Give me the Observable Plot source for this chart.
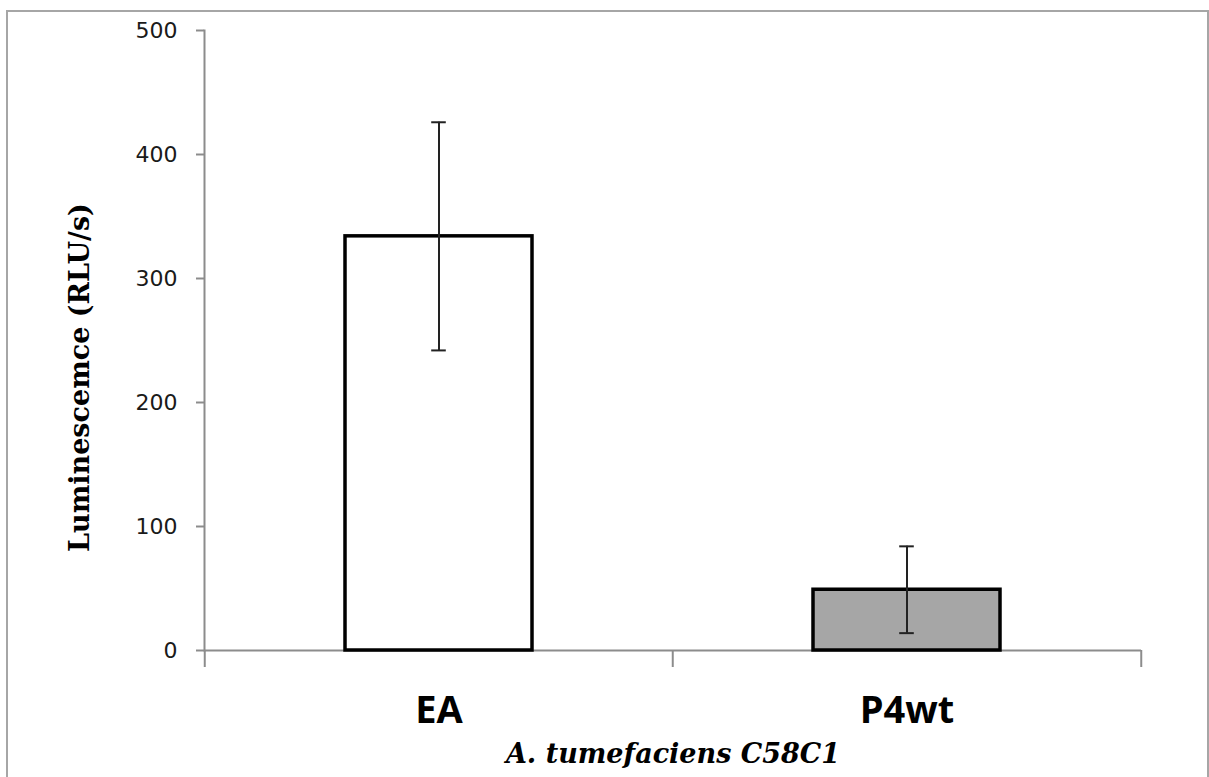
<!DOCTYPE html>
<html><head><meta charset="utf-8">
<script src="https://cdn.jsdelivr.net/npm/d3@7"></script>
<script src="https://cdn.jsdelivr.net/npm/@observablehq/plot@0.6"></script>
<style>
html,body{margin:0;padding:0;background:#fff;overflow:hidden;}
#wrap{position:relative;width:1209px;height:777px;overflow:hidden;}
#border{position:absolute;left:6px;top:10px;width:1203px;height:820px;box-sizing:border-box;border:2px solid #a6a6a6;}
#chart{position:absolute;left:0;top:0;}
</style></head><body>
<div id="wrap"><div id="border"></div><div id="chart"></div></div>
<script>
const categories = ["EA", "P4wt"];
const means = [334, 49];
const errors = [92, 35];
const fills = ["#ffffff", "#a6a6a6"];
const yTicks = [0, 100, 200, 300, 400, 500];
const yLabel = "Luminescemce (RLU/s)";
const xLabel = "A. tumefaciens C58C1";

const data = categories.map((c, i) => ({cat: c, value: means[i], err: errors[i], fill: fills[i]}));

const W = 1209, H = 777, mL = 204, mR = 68, mT = 30, mB = 127;
const step = (W - mL - mR) / categories.length;
const bw = step * 0.4;
const capInset = (bw - 15) / 2;
const axisColor = "#8c8c8c";

const chart = Plot.plot({
  width: W, height: H,
  marginLeft: mL, marginRight: mR, marginTop: mT, marginBottom: mB,
  style: {background: "transparent", overflow: "visible"},
  x: {domain: categories, paddingInner: 0.6, paddingOuter: 0.3, axis: null},
  y: {domain: [0, 500], axis: null},
  color: {type: "identity"},
  marks: [
    Plot.frame({anchor: "left", stroke: axisColor, strokeWidth: 2}),
    Plot.ruleY([0], {stroke: axisColor, strokeWidth: 2}),
    Plot.axisY({ticks: yTicks, tickSize: 8, tickPadding: 19, stroke: axisColor, strokeWidth: 2,
      fill: "#1a1a1a", fontSize: 22, fontFamily: "DejaVu Sans", label: null}),
    Plot.axisX({tickSize: 17, dx: -step / 2, stroke: axisColor, strokeWidth: 2, fill: "none", label: null}),
    Plot.axisX({ticks: [categories[categories.length - 1]], tickSize: 17, dx: step / 2, stroke: axisColor, strokeWidth: 2, fill: "none", label: null}),
    Plot.axisX({tickSize: 0, tickPadding: 46, fontSize: 38, fontWeight: "bold", fontFamily: "Open Sans", fill: "#000", label: null}),
    Plot.barY(data, {x: "cat", y: "value", fill: "fill", stroke: "#000", strokeWidth: 3.5}),
    Plot.ruleX(data, {x: "cat", y1: d => d.value - d.err, y2: d => d.value + d.err, stroke: "#222", strokeWidth: 2}),
    Plot.tickY(data, {x: "cat", y: d => d.value - d.err, stroke: "#222", strokeWidth: 2, insetLeft: capInset, insetRight: capInset}),
    Plot.tickY(data, {x: "cat", y: d => d.value + d.err, stroke: "#222", strokeWidth: 2, insetLeft: capInset, insetRight: capInset}),
    Plot.text([yLabel], {text: d => d, frameAnchor: "left", rotate: -90, dx: -116, dy: 37, lineAnchor: "bottom", textAnchor: "middle",
      fontSize: 27, fontWeight: "bold", fontFamily: "DejaVu Serif", fill: "#000"}),
    Plot.text([xLabel], {text: d => d, frameAnchor: "bottom", dy: 112, lineAnchor: "bottom", textAnchor: "middle",
      fontSize: 27, fontWeight: "bold", fontStyle: "italic", fontFamily: "DejaVu Serif", fill: "#000"})
  ]
});
document.getElementById("chart").appendChild(chart);
</script>
</body></html>
